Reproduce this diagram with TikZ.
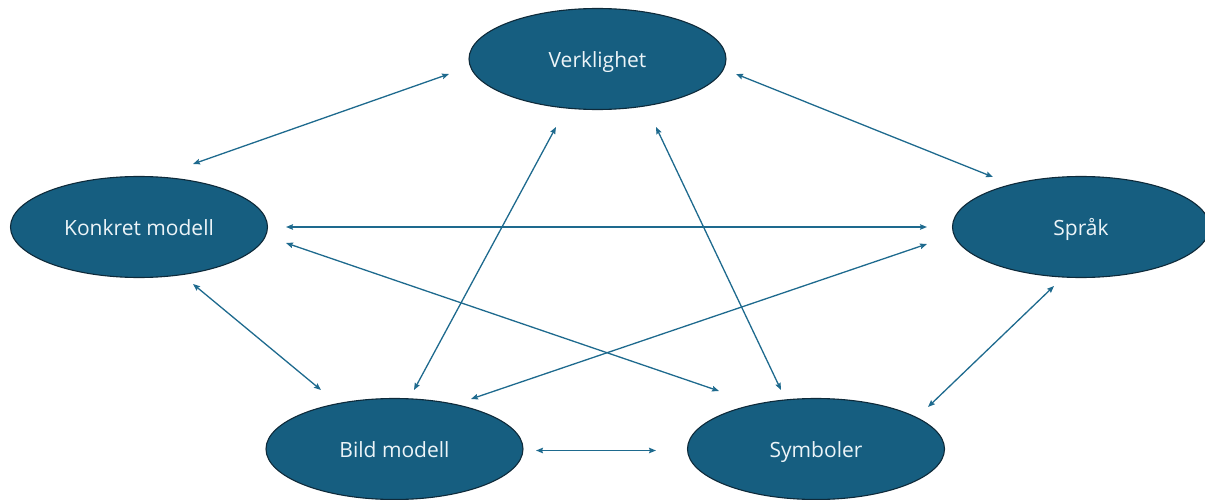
\documentclass[tikz,border=0pt]{standalone}
\usepackage{fontspec}
\setmainfont{Open Sans}
\usetikzlibrary{arrows.meta,shapes.geometric}
\definecolor{nodefill}{RGB}{22,94,128}
\definecolor{nodeline}{RGB}{14,42,58}
\definecolor{arrowcol}{RGB}{30,106,142}
\definecolor{txt}{RGB}{236,244,248}
\tikzset{
  elnode/.style={ellipse, draw=nodeline, line width=1.1pt, fill=nodefill,
    minimum width=257pt, minimum height=101pt, inner sep=0pt,
    text height=19pt, text depth=2pt,
    text=txt, font=\fontsize{21pt}{24pt}\selectfont},
  arr/.style={draw=arrowcol, line width=1.3pt,
    {Stealth[length=7pt,width=5.5pt,inset=1pt]}-{Stealth[length=7pt,width=5.5pt,inset=1pt]}}
}
\begin{document}
\begin{tikzpicture}[x=1pt,y=-1pt]
\useasboundingbox (0,0) rectangle (1205,500);
\clip (0,0) rectangle (1205,500);
\node[elnode] (v) at (597.5,59) {Verklighet};
\node[elnode] (k) at (139,227) {Konkret modell};
\node[elnode] (s) at (1081,227) {Språk};
\node[elnode] (b) at (394.5,449) {Bild modell};
\node[elnode] (y) at (816,449) {Symboler};
\draw[arr] ([shift={(-148.5,15)}]v.center) -- ([shift={(54,-63)}]k.center);
\draw[arr] ([shift={(138.5,15)}]v.center) -- ([shift={(-88,-50)}]s.center);
\draw[arr] ([shift={(147,0)}]k.center) -- ([shift={(-154,0)}]s.center);
\draw[arr] ([shift={(147,16)}]k.center) -- ([shift={(-97,-58)}]y.center);
\draw[arr] ([shift={(-154,17)}]s.center) -- ([shift={(76.5,-50)}]b.center);
\draw[arr] ([shift={(54,57)}]k.center) -- ([shift={(-73.5,-59)}]b.center);
\draw[arr] ([shift={(-41.5,68)}]v.center) -- ([shift={(19.5,-59)}]b.center);
\draw[arr] ([shift={(58.5,68)}]v.center) -- ([shift={(-35,-59)}]y.center);
\draw[arr] ([shift={(-27,59)}]s.center) -- ([shift={(112,-42)}]y.center);
\draw[arr] ([shift={(141.5,1.5)}]b.center) -- ([shift={(-160,1.5)}]y.center);
\end{tikzpicture}
\end{document}
